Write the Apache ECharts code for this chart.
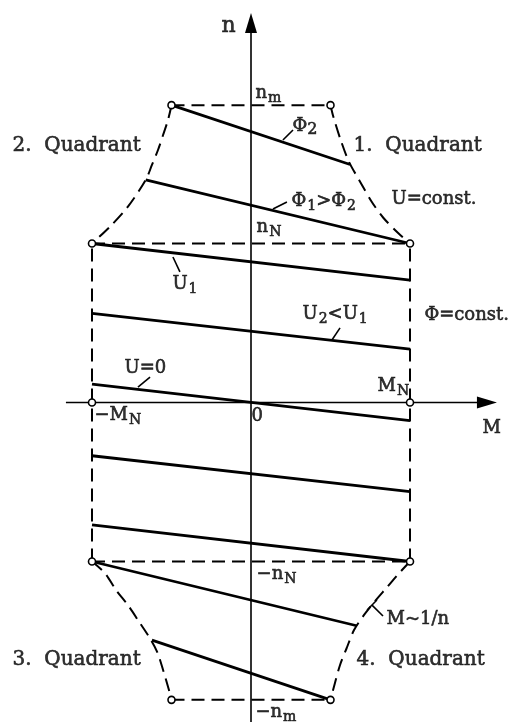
<!DOCTYPE html>
<html>
<head>
<meta charset="utf-8">
<script src="https://cdn.jsdelivr.net/npm/echarts@6/dist/echarts.min.js"></script>
<style>
  html, body { margin: 0; padding: 0; background: #fff; }
  #chart { width: 518px; height: 722px; }
</style>
</head>
<body>
<div id="chart"></div>
<script>
// Operating range of a DC drive in the four quadrants.
// M is given in multiples of M_N, n in multiples of n_N.

// Corner points of the operating range (small open circles)
const cornerPoints = [
  [-0.5, 1.87], [0.5, 1.87], [-1, 1], [1, 1], [-1, 0], [1, 0],
  [-1, -1], [1, -1], [-0.5, -1.87], [0.5, -1.87]
];

// Straight limit lines (dashed): n_m, n_N, -n_N, -n_m, -M_N, M_N
const limitNm      = [[-0.5, 1.87], [0.5, 1.87]];
const limitNN      = [[-1, 1], [1, 1]];
const limitNegNN   = [[-1, -1], [1, -1]];
const limitNegNm   = [[-0.5, -1.87], [0.5, -1.87]];
const limitNegMN   = [[-1, -1], [-1, 1]];
const limitMN      = [[1, -1], [1, 1]];

// Field weakening limit M ~ 1/n (dashed curves)
const curveQ1 = [[0.5, 1.87], [0.518, 1.797], [0.564, 1.651], [0.616, 1.514], [0.686, 1.389], [0.759, 1.263], [0.832, 1.162], [0.927, 1.064], [1, 1]];
const curveQ2 = [[-0.5, 1.87], [-0.522, 1.777], [-0.553, 1.682], [-0.585, 1.588], [-0.623, 1.494], [-0.662, 1.40], [-0.774, 1.232], [-0.887, 1.106], [-1, 1]];
const curveQ3 = [[-1, -1], [-0.918, -1.074], [-0.849, -1.179], [-0.767, -1.284], [-0.704, -1.379], [-0.642, -1.473], [-0.591, -1.567], [-0.553, -1.682], [-0.516, -1.808], [-0.5, -1.87]];
const curveQ4 = [[1, -1], [0.921, -1.085], [0.858, -1.159], [0.78, -1.249], [0.711, -1.336], [0.648, -1.431], [0.602, -1.544], [0.56, -1.651], [0.528, -1.764], [0.5, -1.87]];

// Speed-torque characteristics (solid)
const charPhi2     = [[-0.5, 1.87], [0.623, 1.497]];
const charPhi1     = [[-0.662, 1.40], [1, 1]];
const charU1       = [[-1, 1], [1, 0.77]];
const charU2       = [[-1, 0.561], [1, 0.335]];
const charU0       = [[-1, 0.116], [1, -0.114]];
const charNegU2    = [[-1, -0.335], [1, -0.561]];
const charNegU1    = [[-1, -0.77], [1, -1]];
const charNegPhi1  = [[-1, -1], [0.665, -1.404]];
const charNegPhi2  = [[-0.623, -1.494], [0.5, -1.87]];

// Axis extents
const axisM = [[-1.164, 0], [1.48, 0]];
const axisN = [[0, -2.1], [0, 2.39]];
const arrowM = [1.484, 0];
const arrowN = [0, 2.387];

// Leader lines from labels to curves
const leaders = [
  [[0.201, 1.651], [0.264, 1.714]],
  [[0.138, 1.217], [0.226, 1.261]],
  [[-0.491, 0.915], [-0.447, 0.821]],
  [[0.509, 0.393], [0.560, 0.469]],
  [[-0.711, 0.097], [-0.635, 0.160]],
  [[0.761, -1.274], [0.830, -1.343]],
  [[0.730, -1.305], [0.792, -1.242]]
];

// Text labels: [rich text, M, n]
const labels = [
  ['{big|n}', -0.182, 2.362],
  ['{t|n}{s|m}', 0.031, 1.94],
  ['{t|Φ}{s2|2}', 0.264, 1.733],
  ['{q|1.  Quadrant}', 0.648, 1.613],
  ['{t|Φ}{s|1}{t|>Φ}{s|2}', 0.258, 1.261],
  ['{t|U=const.}', 0.887, 1.274],
  ['{t|n}{s|N}', 0.038, 1.097],
  ['{q|2.  Quadrant}', -1.497, 1.613],
  ['{t|U}{s|1}', -0.491, 0.739],
  ['{t|U}{s|2}{t|<U}{s|1}', 0.327, 0.55],
  ['{t|Φ=const.}', 1.094, 0.544],
  ['{t|U=0}', -0.792, 0.211],
  ['{t|−M}{s|N}', -0.981, -0.085],
  ['{t|0}', 0.006, -0.088],
  ['{t|M}{s|N}', 0.799, 0.101],
  ['{t|M}', 1.459, -0.164],
  ['{t|−n}{s|N}', 0.038, -1.085],
  ['{t|M~1/n}', 0.855, -1.368],
  ['{q|4.  Quadrant}', 0.667, -1.619],
  ['{q|3.  Quadrant}', -1.497, -1.619],
  ['{t|−n}{s|m}', 0.031, -1.953]
];

const view = { xMin: -1.5786, xMax: 1.6792, yMin: -2.0094, yMax: 2.5314 };

const INK = '#000';
const FONT = 'DejaVu Serif';

function polyline(data, width, dashed) {
  return {
    type: 'line', data: data, symbol: 'none', silent: true,
    lineStyle: { color: INK, width: width, type: dashed ? [13, 7] : 'solid', cap: 'butt' },
    z: dashed ? 2 : 3
  };
}

const series = [];
[axisM, axisN].forEach(a => series.push(polyline(a, 1.6, false)));
[limitNm, limitNN, limitNegNN, limitNegNm, limitNegMN, limitMN].forEach(l => series.push(polyline(l, 2, true)));
[curveQ1, curveQ2, curveQ3, curveQ4].forEach(c => {
  const s = polyline(c, 2, true);
  s.smooth = 0.3;
  series.push(s);
});
[charPhi2, charPhi1, charU1, charU2, charU0, charNegU2, charNegU1, charNegPhi1, charNegPhi2]
  .forEach(c => series.push(polyline(c, 2.8, false)));
leaders.forEach(l => series.push(polyline(l, 1.6, false)));

// Arrow heads of the axes
series.push({
  type: 'scatter', silent: true, z: 5,
  data: [
    { value: arrowN, symbolRotate: 0 },
    { value: arrowM, symbolRotate: -90 }
  ],
  symbol: 'triangle', symbolSize: [12, 20],
  itemStyle: { color: INK, opacity: 1 }
});

// Corner circles
series.push({
  type: 'scatter', silent: true, z: 6,
  data: cornerPoints, symbol: 'circle', symbolSize: 7,
  itemStyle: { color: '#fff', borderColor: INK, borderWidth: 1.6, opacity: 1 }
});

// Labels (a thin outline in the text colour gives the strokes more weight)
const txt = (size, extra) => Object.assign({
  fontSize: size, fontFamily: FONT, color: INK,
  textBorderColor: INK, textBorderWidth: 0.6
}, extra || {});

series.push({
  type: 'scatter', silent: true, z: 7,
  symbolSize: 1, itemStyle: { color: 'rgba(0,0,0,0)' },
  data: labels.map(l => ({ value: [l[1], l[2]], text: l[0] })),
  label: {
    show: true, position: [0, 0], align: 'left', verticalAlign: 'middle',
    formatter: p => p.data.text,
    color: INK, fontFamily: FONT,
    rich: {
      big: txt(22),
      t:   txt(18),
      s:   txt(14, { padding: [10, 0, 0, 1] }),
      s2:  txt(16, { padding: [6, 0, 0, 0] }),
      q:   txt(20)
    }
  }
});

const chart = echarts.init(document.getElementById('chart'), null, { renderer: 'canvas' });
chart.setOption({
  animation: false,
  backgroundColor: '#fff',
  grid: { left: 0, right: 0, top: 0, bottom: 0 },
  xAxis: { type: 'value', min: view.xMin, max: view.xMax, show: false },
  yAxis: { type: 'value', min: view.yMin, max: view.yMax, show: false },
  series: series
});
</script>
</body>
</html>
